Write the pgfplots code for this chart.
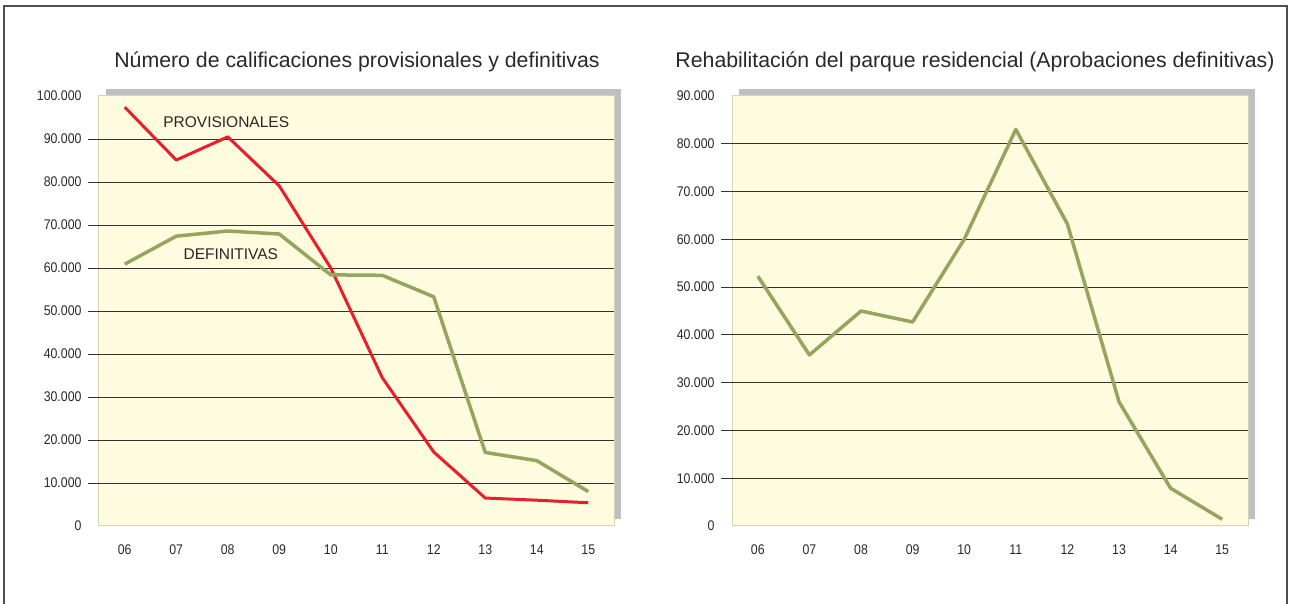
\documentclass[border=0pt]{standalone}
\usepackage{fontspec}
\setmainfont{Liberation Sans}
\newfontfamily\condfont[FakeStretch=0.88]{Liberation Sans}
\usepackage{pgfplots}
\pgfplotsset{compat=1.18}
\definecolor{cream}{RGB}{255,251,222}
\definecolor{bordercol}{RGB}{214,210,178}
\definecolor{shadowcol}{RGB}{190,191,196}
\definecolor{gridcol}{RGB}{50,50,50}
\definecolor{txt}{RGB}{40,40,40}
\definecolor{redline}{RGB}{232,30,40}
\definecolor{greenline}{RGB}{148,166,94}
\definecolor{framecol}{RGB}{80,80,80}
\pgfplotsset{
  panel/.style={
    anchor=south west, scale only axis, width=515pt, height=430pt,
    xmin=-0.5, xmax=9.5, ymin=0,
    scaled y ticks=false,
    axis background/.style={fill=cream},
    axis line style={draw=bordercol, line width=1pt},
    xtick={0,...,9}, xticklabels={06,07,08,09,10,11,12,13,14,15},
    major tick length=0pt,
    tick label style={font=\condfont\fontsize{14}{14}\selectfont, text=txt},
    yticklabel style={xshift=-14pt},
    xticklabel style={yshift=-15pt},
    extra y tick labels={},
    extra y tick style={ymajorgrids=true, major tick length=11pt, tick align=outside, tick pos=left},
    major grid style={draw=gridcol, line width=0.9pt},
    tick style={draw=gridcol, line width=0.9pt},
    clip=false,
  }
}
\begin{document}
\begin{tikzpicture}[x=1pt,y=1pt]
\useasboundingbox (0,0) rectangle (1290,604);
\draw[framecol, line width=1.5pt] (4,-5) rectangle (1287,598);
% shadows
\fill[shadowcol] (106,85) rectangle (621,515);
\fill[shadowcol] (739,85) rectangle (1255,515);
\node[font=\fontsize{21.3}{21.3}\selectfont, text=txt] at (357,542) {Número de calificaciones provisionales y definitivas};
\node[font=\fontsize{21.3}{21.3}\selectfont, text=txt] at (975,542) {Rehabilitación del parque residencial (Aprobaciones definitivas)};
\begin{axis}[panel, at={(99pt,78pt)}, ymax=100000,
  ytick={0,10000,...,100000},
  yticklabels={0,10.000,20.000,30.000,40.000,50.000,60.000,70.000,80.000,90.000,100.000},
  extra y ticks={10000,20000,30000,40000,50000,60000,70000,80000,90000}]
\addplot[redline, line width=3pt, line join=round] coordinates {
(0,97400) (1,85100) (2,90500) (3,79100) (4,60000) (5,34500) (6,17200) (7,6500) (8,6000) (9,5400)};
\addplot[greenline, line width=3.5pt, line join=round] coordinates {
(0,60900) (1,67400) (2,68600) (3,67900) (4,58400) (5,58300) (6,53300) (7,17100) (8,15200) (9,8000)};
\node[font=\fontsize{15.5}{15.5}\selectfont, text=txt] at (axis cs:1.97,94000) {PROVISIONALES};
\node[font=\fontsize{15.5}{15.5}\selectfont, text=txt] at (axis cs:2.06,63300) {DEFINITIVAS};
\end{axis}
\begin{axis}[panel, at={(732pt,78pt)}, width=516pt, ymax=90000,
  ytick={0,10000,...,90000},
  yticklabels={0,10.000,20.000,30.000,40.000,50.000,60.000,70.000,80.000,90.000},
  extra y ticks={10000,20000,30000,40000,50000,60000,70000,80000}]
\addplot[greenline, line width=3.5pt, line join=round] coordinates {
(0,52300) (1,35800) (2,45000) (3,42700) (4,60000) (5,83000) (6,63200) (7,26000) (8,7900) (9,1400)};
\end{axis}
\end{tikzpicture}
\end{document}
